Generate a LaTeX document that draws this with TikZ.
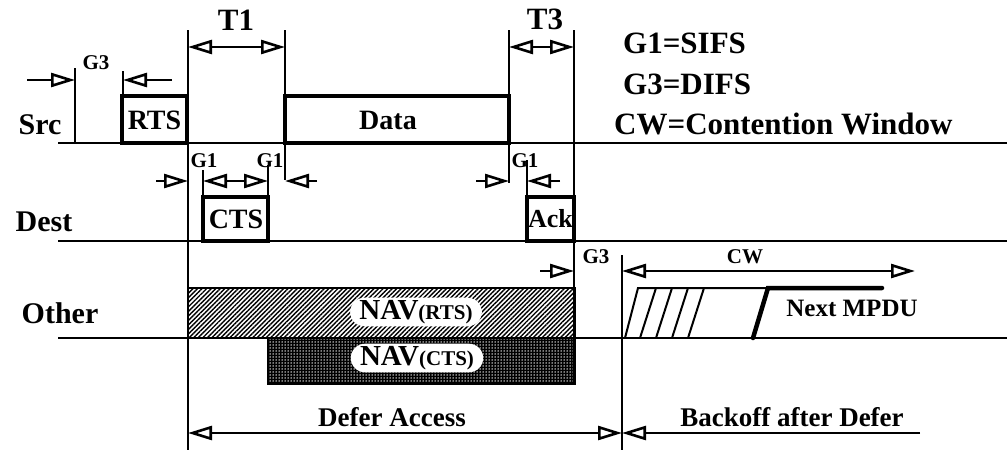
\documentclass[tikz,border=0pt]{standalone}
\usepackage{fontspec}
\setmainfont{Liberation Serif}
\usetikzlibrary{arrows.meta,patterns,patterns.meta,shapes.misc}
\begin{document}
\begin{tikzpicture}[x=1pt,y=-1pt,
  tri/.tip={Triangle[open,length=24pt,width=14pt,line width=2.6pt]},
  timeline/.style={line width=2.6pt},
  guide/.style={line width=1.9pt},
  frame/.style={line width=4.5pt},
  gap/.style={line width=2.4pt},
  lbl/.style={font=\bfseries\fontsize{30}{30}\selectfont, inner sep=0pt},
  big/.style={font=\bfseries\fontsize{31}{31}\selectfont, inner sep=0pt},
  sml/.style={font=\bfseries\fontsize{21}{21}\selectfont, inner sep=0pt},
  boxt/.style={font=\bfseries\fontsize{28}{28}\selectfont, inner sep=0pt},
  bot/.style={font=\bfseries\fontsize{27}{27}\selectfont, inner sep=0pt},
  navlbl/.style={rounded rectangle, fill=white, inner xsep=3pt, inner ysep=2.5pt, font=\bfseries}
]
\useasboundingbox (0,0) rectangle (1007,450);

% NAV boxes
\fill[pattern={Lines[angle=45,distance=3.2pt,line width=1.4pt]}] (188,288) rectangle (575,338);
\draw[line width=2.2pt] (188,288) rectangle (575,338);
\fill[black] (268,338) rectangle (575,384);
\fill[pattern={Dots[distance=3pt,radius=0.75pt]}, pattern color=white] (268,338) rectangle (575,384);
\draw[line width=2.2pt] (268,338) rectangle (575,384);
\node[navlbl] (navr) at (416,312) {{\fontsize{29}{29}\selectfont NAV}{\fontsize{21}{21}\selectfont (RTS)}};
\node[navlbl] (navc) at (417,358) {{\fontsize{29}{29}\selectfont NAV}{\fontsize{21}{21}\selectfont (CTS)}};

% time lines
\coordinate (srcA) at (58,143);  \coordinate (srcB) at (1007,143);
\coordinate (dstA) at (58,241);  \coordinate (dstB) at (1007,241);
\coordinate (othA) at (58,338);  \coordinate (othB) at (1007,338);
\draw[timeline] (srcA) -- (srcB);
\draw[timeline] (dstA) -- (dstB);
\draw[timeline] (othA) -- (othB);

% vertical guides
\draw[guide] (75,68) -- (75,143);
\draw[guide] (123,71) -- (123,96);
\draw[guide] (188,30) -- (188,450);
\draw[guide] (285,30) -- (285,180);
\draw[guide] (509,30) -- (509,183);
\draw[guide] (574,30) -- (574,384);
\draw[guide] (203,170) -- (203,197);
\draw[guide] (268,165) -- (268,197);
\draw[guide] (527,160) -- (527,197);
\draw[guide] (622,255) -- (622,450);

% frames
\draw[frame] (122,143) rectangle (187,96);
\draw[frame] (285,143) rectangle (509,96);
\draw[frame] (203,241) rectangle (268,197);
\draw[frame] (527,241) rectangle (574,197);

% frame texts
\node[boxt] (rts) at (154.5,120) {RTS};
\node[boxt] (data) at (388,120) {Data};
\node[boxt] (cts) at (236,219) {CTS};
\node[font=\bfseries\fontsize{26}{26}\selectfont, inner sep=0pt] (ack) at (550.5,219) {Ack};

% station labels
\node[lbl] (src) at (40,125) {Src};
\node[lbl] (dest) at (44,222) {Dest};
\node[lbl] (other) at (60,313) {Other};

% interval arrows
\draw[gap,tri-tri] (188,47) -- (285,47);
\draw[gap,tri-tri] (509,47) -- (574,47);
\node[big] (t1) at (236,20) {T1};
\node[big] (t3) at (545,19) {T3};

\draw[gap,-tri] (27,80) -- (75,80);
\draw[gap,-tri] (172,80) -- (123,80);
\node[sml] (g3a) at (96,63) {G3};

\draw[gap,-tri] (156,181) -- (188,181);
\draw[gap,tri-tri] (203,181) -- (268,181);
\draw[gap,-tri] (317,181) -- (285,181);
\draw[gap,-tri] (476,181) -- (509,181);
\draw[gap,-tri] (560,181) -- (527,181);
\node[sml] (g1a) at (204,161) {G1};
\node[sml] (g1b) at (270,161) {G1};
\node[sml] (g1c) at (525,161) {G1};

\draw[gap,-tri] (540,271) -- (574,271);
\node[sml] (g3b) at (596,257) {G3};
\draw[gap,tri-tri] (622,271) -- (915,271);
\node[sml] (cw) at (745,257) {CW};

% backoff slots and next MPDU
\draw[line width=2pt] (625,338) -- (638,288) -- (768,288);
\draw[line width=2pt] (640,338) -- (656,288);
\draw[line width=2pt] (656,338) -- (672,288);
\draw[line width=2pt] (672,338) -- (688,288);
\draw[line width=2pt] (688,338) -- (704,288);
\draw[line width=4.5pt, line cap=round] (753,338) -- (768,288) -- (882,288);
\node[font=\bfseries\fontsize{25}{25}\selectfont, inner sep=0pt] (mpdu) at (852,308) {Next MPDU};

% legend
\node[big, anchor=west] (leg1) at (623,43) {G1=SIFS};
\node[big, anchor=west] (leg2) at (623,84) {G3=DIFS};
\node[big, anchor=west] (leg3) at (614,124) {CW=Contention Window};

% bottom
\draw[gap,tri-tri] (188,433) -- (622,433);
\draw[gap,-tri] (920,433) -- (622,433);
\node[bot] (defer) at (392,417) {Defer Access};
\node[bot] (backoff) at (792,417) {Backoff after Defer};
\end{tikzpicture}
\end{document}
